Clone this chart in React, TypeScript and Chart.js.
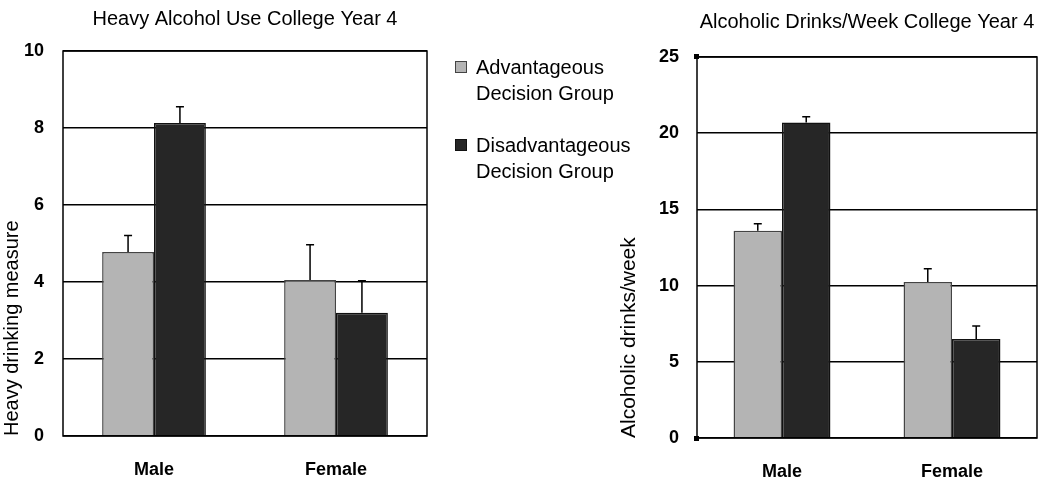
import React, { useEffect, useRef } from 'react';
import { Chart, registerables } from 'chart.js';

Chart.register(...registerables);

const categories = ['Male', 'Female'];
const seriesLabels = ['Advantageous Decision Group', 'Disadvantageous Decision Group'];
const legendLines = [
  ['Advantageous', 'Decision Group'],
  ['Disadvantageous', 'Decision Group'],
];
const seriesFill = ['#b4b4b4', '#262626'];
const seriesBorder = ['#444444', '#111111'];

const heavyTitle = 'Heavy Alcohol Use College Year 4';
const heavyAxisTitle = 'Heavy drinking measure';
const heavyAdvantageous = [4.78, 4.05];
const heavyAdvantageousErr = [0.43, 0.92];
const heavyDisadvantageous = [8.13, 3.2];
const heavyDisadvantageousErr = [0.42, 0.83];
const heavyTicks = [0, 2, 4, 6, 8, 10];

const drinksTitle = 'Alcoholic Drinks/Week College Year 4';
const drinksAxisTitle = 'Alcoholic drinks/week';
const drinksAdvantageous = [13.6, 10.24];
const drinksAdvantageousErr = [0.46, 0.86];
const drinksDisadvantageous = [20.7, 6.49];
const drinksDisadvantageousErr = [0.38, 0.86];
const drinksTicks = [0, 5, 10, 15, 20, 25];

const FONT = "'Liberation Sans', Arial, Helvetica, sans-serif";

const errorBarPlugin = {
  id: 'errorBars',
  afterDatasetsDraw(chart: any) {
    const { ctx } = chart;
    const yScale = chart.scales.y;
    chart.data.datasets.forEach((ds: any, i: number) => {
      const meta = chart.getDatasetMeta(i);
      meta.data.forEach((bar: any, j: number) => {
        const top = yScale.getPixelForValue(ds.data[j] + ds.errors[j]);
        ctx.save();
        ctx.strokeStyle = '#000';
        ctx.lineWidth = 1.5;
        ctx.beginPath();
        ctx.moveTo(bar.x, bar.y);
        ctx.lineTo(bar.x, top);
        ctx.moveTo(bar.x - 4, top);
        ctx.lineTo(bar.x + 4, top);
        ctx.stroke();
        ctx.restore();
      });
    });
  },
};

const framePlugin = {
  id: 'frame',
  afterDatasetsDraw(chart: any, _args: any, opts: any) {
    const { ctx, chartArea } = chart;
    const { left, top, right, bottom } = chartArea;
    ctx.save();
    ctx.strokeStyle = '#000';
    ctx.lineWidth = 1.5;
    ctx.strokeRect(left, top, right - left, bottom - top);
    if (opts && opts.markers) {
      ctx.fillStyle = '#000';
      ctx.fillRect(left - 3, top - 3, 5, 5);
      ctx.fillRect(left - 3, bottom - 2, 5, 5);
    }
    ctx.restore();
  },
};

type PanelProps = {
  title: string;
  axisTitle: string;
  adv: number[];
  advErr: number[];
  dis: number[];
  disErr: number[];
  ticks: number[];
  yWidth: number;
  xHeight: number;
  padRight: number;
  titlePad: { top: number; bottom: number };
  axisTitlePad: number;
  axisTitleSize: number;
  yTickPad: number;
  tickPad: number;
  markers: boolean;
  left: number;
};

function Panel(p: PanelProps) {
  const ref = useRef<HTMLCanvasElement | null>(null);
  useEffect(() => {
    if (!ref.current) return;
    const step = p.ticks[1] - p.ticks[0];
    const chart = new Chart(ref.current, {
      type: 'bar',
      data: {
        labels: categories,
        datasets: [
          {
            label: seriesLabels[0],
            data: p.adv,
            errors: p.advErr,
            backgroundColor: seriesFill[0],
            borderColor: seriesBorder[0],
            borderWidth: 1.5,
            categoryPercentage: 0.57,
            barPercentage: 1.0,
          } as any,
          {
            label: seriesLabels[1],
            data: p.dis,
            errors: p.disErr,
            backgroundColor: seriesFill[1],
            borderColor: seriesBorder[1],
            borderWidth: 1.5,
            categoryPercentage: 0.57,
            barPercentage: 1.0,
          } as any,
        ],
      },
      options: {
        responsive: false,
        animation: false,
        devicePixelRatio: 1,
        layout: { padding: { left: 0, right: p.padRight, top: 0, bottom: 0 } },
        plugins: {
          legend: { display: false },
          tooltip: { enabled: false },
          title: {
            display: true,
            text: p.title,
            fullSize: false,
            color: '#000',
            font: { family: FONT, size: 20, weight: 'normal' },
            padding: p.titlePad,
          },
          frame: { markers: p.markers },
        } as any,
        scales: {
          x: {
            grid: { display: false, drawTicks: false },
            border: { display: false },
            ticks: {
              color: '#000',
              padding: p.tickPad,
              font: { family: FONT, size: 18, weight: 'bold' },
            },
            afterFit: (s: any) => {
              s.height = p.xHeight;
            },
          },
          y: {
            min: p.ticks[0],
            max: p.ticks[p.ticks.length - 1],
            grid: { color: '#000', lineWidth: 1.6, drawTicks: false },
            border: { display: false },
            ticks: {
              stepSize: step,
              color: '#000',
              padding: p.yTickPad,
              font: { family: FONT, size: 18, weight: 'bold' },
            },
            title: {
              display: true,
              text: p.axisTitle,
              align: 'start',
              color: '#000',
              font: { family: FONT, size: p.axisTitleSize, weight: 'normal' },
              padding: { top: p.axisTitlePad, bottom: 0 },
            },
            afterFit: (s: any) => {
              s.width = p.yWidth;
            },
          },
        },
      } as any,
      plugins: [errorBarPlugin, framePlugin],
    });
    return () => chart.destroy();
  }, []);
  return (
    <canvas
      ref={ref}
      width={450}
      height={495}
      style={{ position: 'absolute', left: p.left, top: 0, width: 450, height: 495 }}
    />
  );
}

export default function App() {
  return (
    <div
      style={{
        position: 'absolute',
        left: 0,
        top: 0,
        width: 1050,
        height: 495,
        background: '#fff',
        overflow: 'hidden',
      }}
    >
      <Panel
        title={heavyTitle}
        axisTitle={heavyAxisTitle}
        adv={heavyAdvantageous}
        advErr={heavyAdvantageousErr}
        dis={heavyDisadvantageous}
        disErr={heavyDisadvantageousErr}
        ticks={heavyTicks}
        yWidth={63}
        xHeight={59}
        padRight={23}
        titlePad={{ top: 7, bottom: 20 }}
        axisTitlePad={0}
        axisTitleSize={20}
        yTickPad={19}
        tickPad={23}
        markers={false}
        left={0}
      />
      <Panel
        title={drinksTitle}
        axisTitle={drinksAxisTitle}
        adv={drinksAdvantageous}
        advErr={drinksAdvantageousErr}
        dis={drinksDisadvantageous}
        disErr={drinksDisadvantageousErr}
        ticks={drinksTicks}
        yWidth={97}
        xHeight={57}
        padRight={13}
        titlePad={{ top: 10, bottom: 23 }}
        axisTitlePad={17}
        axisTitleSize={21}
        yTickPad={18}
        tickPad={23}
        markers={true}
        left={600}
      />
      <div
        style={{
          position: 'absolute',
          left: 455,
          top: 54,
          fontFamily: FONT,
          fontSize: 20,
          lineHeight: '26px',
          color: '#000',
        }}
      >
        {legendLines.map((lines, i) => (
          <div key={i} style={{ position: 'relative', paddingLeft: 21, marginBottom: i === 0 ? 26 : 0 }}>
            <div
              style={{
                position: 'absolute',
                left: 0,
                top: 7,
                width: 10,
                height: 10,
                background: seriesFill[i],
                border: '1px solid ' + seriesBorder[i],
              }}
            />
            {lines.map((t, k) => (
              <div key={k} style={{ whiteSpace: 'nowrap' }}>
                {t}
              </div>
            ))}
          </div>
        ))}
      </div>
    </div>
  );
}
